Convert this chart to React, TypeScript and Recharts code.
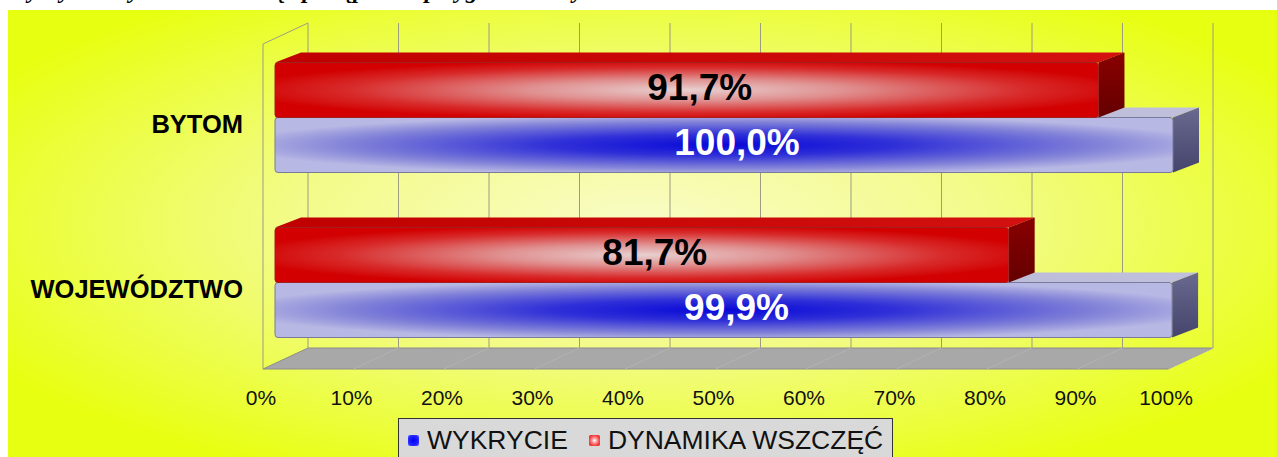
import React from 'react';
import { BarChart, Bar, XAxis, YAxis, CartesianGrid } from 'recharts';

const categories = ['BYTOM', 'WOJEWÓDZTWO'];
const wykrycie = [100.0, 99.9];
const dynamikaWszczec = [91.7, 81.7];
const percentTicks = [0, 10, 20, 30, 40, 50, 60, 70, 80, 90, 100];
const seriesNames = ['WYKRYCIE', 'DYNAMIKA WSZCZĘĆ'];
const title = 'Wykrycie i dynamika wszczęć postępowań przygotowawczych w 2023 roku';

const data = categories.map((name, i) => ({
  name,
  wykrycie: wykrycie[i],
  dynamika: dynamikaWszczec[i],
}));

// chart box (page offset 8,10)
const W = 1269;
const H = 447;
const X_AXIS_H = 40;
const Y_AXIS_W = 267;
const margin = { top: 24.5, right: 104, bottom: 52.5, left: 0 };
const PLOT_LEFT = margin.left + Y_AXIS_W;
const PLOT_W = W - PLOT_LEFT - margin.right;
const PLOT_TOP = margin.top;
const PLOT_BOTTOM = H - margin.bottom - X_AXIS_H;

// fake 3d
const BAR_DX = 26;
const BAR_DY = 10;
const WALL_DX = 45;
const WALL_DY = 21;
const WALL_W = 905;
const frontX = (x: number) => PLOT_LEFT - 12 + ((x - PLOT_LEFT) * WALL_W) / PLOT_W;
const FLOOR_Y = PLOT_BOTTOM + 4.5;
const WALL_TOP = PLOT_TOP - 11.5;

const FONT = '"Liberation Sans", Arial, sans-serif';
const fmt = (v: number) => v.toFixed(1).replace('.', ',') + '%';

function wallLine(props: any) {
  const fx = frontX(props.x1);
  const bx = fx + WALL_DX;
  return (
    <g key={`wall-${props.index}`}>
      {props.index === 0 && (
        <g>
          <polygon
            points={`${fx},${FLOOR_Y} ${fx + WALL_DX},${FLOOR_Y - WALL_DY} ${fx + WALL_DX + WALL_W},${FLOOR_Y - WALL_DY} ${fx + WALL_W},${FLOOR_Y}`}
            fill="#a8a8a8"
            stroke="#8c8c8c"
          />
          <line x1={fx} y1={WALL_TOP + WALL_DY} x2={fx} y2={FLOOR_Y} stroke="#9c9c88" />
          <line x1={fx} y1={WALL_TOP + WALL_DY} x2={bx} y2={WALL_TOP} stroke="#9c9c88" />
        </g>
      )}
      <line x1={bx} y1={WALL_TOP} x2={bx} y2={FLOOR_Y - WALL_DY} stroke="#9c9c80" />
      {props.index > 0 && (
        <line x1={fx} y1={FLOOR_Y} x2={bx} y2={FLOOR_Y - WALL_DY} stroke="#b2b2b2" />
      )}
    </g>
  );
}

function XTick(props: any) {
  const { x, y, payload } = props;
  return (
    <text x={frontX(x) - 2} y={y + 40} textAnchor="middle" fontSize={21} fontFamily={FONT} fill="#111">
      {payload.value}%
    </text>
  );
}

function YTick(props: any) {
  const { x, y, payload } = props;
  return (
    <text x={x} y={y + 7} textAnchor="end" dominantBaseline="central" fontSize={25.5} fontWeight="bold" fontFamily={FONT} fill="#000">
      {payload.value}
    </text>
  );
}

function makeBox(kind: 'blue' | 'red') {
  return (props: any) => {
    const { x, y, width, height, payload } = props;
    const value = kind === 'blue' ? payload.wykrycie : payload.dynamika;
    // red sits above blue, but is drawn after it
    const top = kind === 'blue' ? y + height : y - height;
    const r = x + width;
    return (
      <g>
        <polygon
          points={`${x},${top} ${x + BAR_DX},${top - BAR_DY} ${r + BAR_DX},${top - BAR_DY} ${r},${top}`}
          fill={`url(#${kind}Top)`}
        />
        <polygon
          points={`${r},${top} ${r + BAR_DX},${top - BAR_DY} ${r + BAR_DX},${top + height - BAR_DY} ${r},${top + height}`}
          fill={`url(#${kind}Side)`}
        />
        <rect
          x={x}
          y={top}
          width={width}
          height={height}
          rx={3}
          fill={`url(#${kind}Front)`}
          stroke={kind === 'blue' ? '#7a7a9a' : '#a02020'}
          strokeWidth={1}
        />
        <text
          x={x + (width + BAR_DX) / 2}
          y={top + height / 2 - 3}
          textAnchor="middle"
          dominantBaseline="central"
          fontSize={37}
          fontWeight="bold"
          fontFamily={FONT}
          fill={kind === 'blue' ? '#ffffff' : '#000000'}
        >
          {fmt(value)}
        </text>
      </g>
    );
  };
}

const markerBg = [
  'radial-gradient(circle, #0000f0 0%, #2020ff 60%, #6a6aff 100%)',
  'radial-gradient(circle, #ffffff 0%, #ff7070 45%, #e00000 100%)',
];

export default function App() {
  return (
    <div style={{ position: 'absolute', left: 0, top: 0, width: 1277, height: 457, overflow: 'hidden', background: '#fff' }}>
      <div
        style={{
          position: 'absolute',
          left: 8,
          top: -22,
          lineHeight: '24px',
          fontSize: 24,
          fontStyle: 'italic',
          fontWeight: 'bold',
          fontFamily: '"Liberation Serif", serif',
          whiteSpace: 'nowrap',
          color: '#000',
        }}
      >
        {title}
      </div>
      <div
        style={{
          position: 'absolute',
          left: 8,
          top: 10,
          width: W,
          height: H,
          background: 'radial-gradient(60% 62% at 50% 48%, #f9fcc6 0%, #f3fb8a 45%, #e7ff10 100%)',
        }}
      >
        <BarChart width={W} height={H} data={data} layout="vertical" margin={margin} barSize={55} barGap={0}>
          <defs>
            <radialGradient id="redFront" cx="0.5" cy="0.5" r="0.55">
              <stop offset="0%" stopColor="#e8d0d0" />
              <stop offset="35%" stopColor="#e09090" />
              <stop offset="75%" stopColor="#d82a2a" />
              <stop offset="100%" stopColor="#d20000" />
            </radialGradient>
            <radialGradient id="blueFront" cx="0.5" cy="0.5" r="0.55">
              <stop offset="0%" stopColor="#0808d8" />
              <stop offset="35%" stopColor="#3030d8" />
              <stop offset="75%" stopColor="#8080d8" />
              <stop offset="100%" stopColor="#b8b8e4" />
            </radialGradient>
            <linearGradient id="redTop" x1="0" y1="0" x2="1" y2="0">
              <stop offset="0%" stopColor="#c00000" />
              <stop offset="100%" stopColor="#d41010" />
            </linearGradient>
            <linearGradient id="blueTop" x1="0" y1="0" x2="1" y2="0">
              <stop offset="0%" stopColor="#b0b0d4" />
              <stop offset="100%" stopColor="#c0c0dc" />
            </linearGradient>
            <linearGradient id="redSide" x1="0" y1="0" x2="0" y2="1">
              <stop offset="0%" stopColor="#8a0000" />
              <stop offset="100%" stopColor="#640000" />
            </linearGradient>
            <linearGradient id="blueSide" x1="0" y1="0" x2="0" y2="1">
              <stop offset="0%" stopColor="#6a6a90" />
              <stop offset="100%" stopColor="#44446c" />
            </linearGradient>
          </defs>
          <CartesianGrid horizontal={false} vertical={wallLine} />
          <XAxis
            type="number"
            domain={[0, 100]}
            ticks={percentTicks}
            interval={0}
            height={X_AXIS_H}
            axisLine={false}
            tickLine={false}
            tickSize={0}
            tickMargin={0}
            tick={<XTick />}
          />
          <YAxis
            type="category"
            dataKey="name"
            width={Y_AXIS_W}
            axisLine={false}
            tickLine={false}
            tickSize={0}
            tickMargin={32}
            tick={<YTick />}
          />
          <Bar dataKey="wykrycie" name={seriesNames[0]} shape={makeBox('blue')} isAnimationActive={false} />
          <Bar dataKey="dynamika" name={seriesNames[1]} shape={makeBox('red')} isAnimationActive={false} />
        </BarChart>
      </div>
      <div
        style={{
          position: 'absolute',
          left: 398,
          top: 418,
          width: 495,
          height: 50,
          boxSizing: 'border-box',
          background: '#d9d9d9',
          border: '1px solid #333',
          fontFamily: FONT,
          fontSize: 26.5,
          color: '#111',
        }}
      >
        <div style={{ display: 'flex', alignItems: 'center', height: 43, paddingLeft: 9 }}>
          {seriesNames.map((name, i) => (
            <div key={name} style={{ display: 'flex', alignItems: 'center', marginRight: 21 }}>
              <span
                style={{
                  display: 'inline-block',
                  width: 11,
                  height: 11,
                  borderRadius: 2,
                  background: markerBg[i],
                  marginRight: 8,
                }}
              />
              <span style={{ whiteSpace: 'nowrap' }}>{name}</span>
            </div>
          ))}
        </div>
      </div>
    </div>
  );
}
